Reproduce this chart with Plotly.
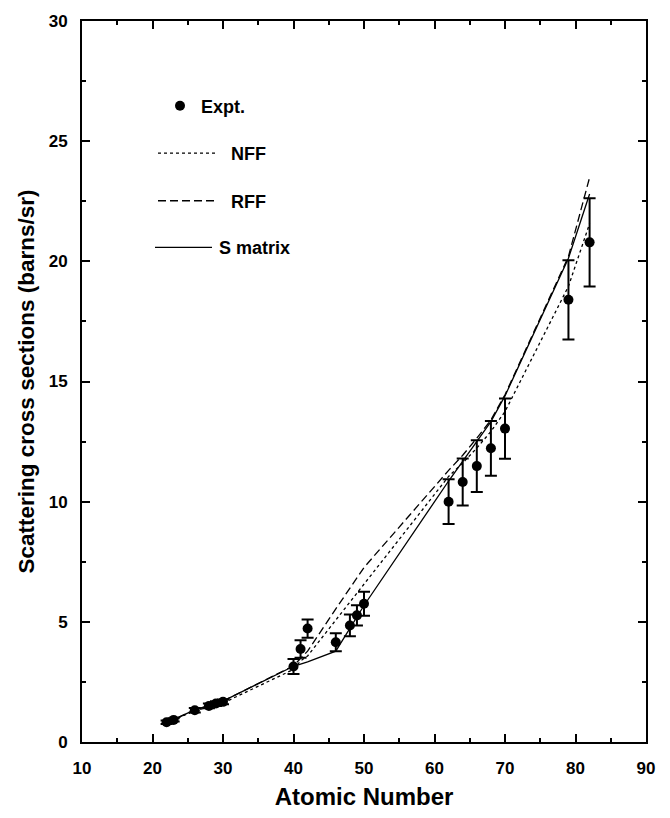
import plotly.graph_objects as go

# ---- data ----
Z = [22, 23, 26, 28, 29, 30, 40, 41, 42, 46, 48, 49, 50, 62, 64, 66, 68, 70, 79, 82]
expt = [0.82, 0.92, 1.32, 1.50, 1.60, 1.67, 3.14, 3.87, 4.72, 4.15, 4.85, 5.27, 5.75,
        10.0, 10.82, 11.48, 12.22, 13.04, 18.4, 20.79]
expt_err = [0.07, 0.07, 0.09, 0.10, 0.10, 0.10, 0.31, 0.36, 0.38, 0.37, 0.45, 0.42, 0.50,
            0.93, 0.98, 1.08, 1.14, 1.25, 1.65, 1.84]
nff = [0.82, 0.92, 1.30, 1.47, 1.55, 1.62, 3.02, 3.37, 3.58, 5.07, 5.80, 6.17, 6.53,
       11.05, 11.61, 12.23, 12.92, 13.75, 18.96, 21.57]
rff = [0.83, 0.93, 1.33, 1.52, 1.62, 1.70, 3.17, 3.47, 3.78, 5.54, 6.40, 6.83, 7.26,
       11.30, 11.93, 12.64, 13.40, 14.45, 20.20, 23.49]
smat = [0.84, 0.94, 1.34, 1.53, 1.63, 1.70, 3.15, 3.25, 3.33, 3.78, 4.75, 5.20, 5.68,
        10.86, 11.68, 12.50, 13.33, 14.40, 20.13, 22.80]

legend_labels = ["Expt.", "NFF", "RFF", "S matrix"]

FONT = "Liberation Sans, Arial, Helvetica, sans-serif"

fig = go.Figure()
fig.add_trace(go.Scatter(x=Z, y=nff, mode="lines", name="NFF",
                         line=dict(color="black", width=1.3, dash="dot")))
fig.add_trace(go.Scatter(x=Z, y=rff, mode="lines", name="RFF",
                         line=dict(color="black", width=1.3, dash="8px,4px")))
fig.add_trace(go.Scatter(x=Z, y=smat, mode="lines", name="S matrix",
                         line=dict(color="black", width=1.3)))
fig.add_trace(go.Scatter(x=Z, y=expt, mode="markers", name="Expt.",
                         marker=dict(color="black", size=10),
                         error_y=dict(type="data", array=expt_err, visible=True,
                                      color="black", thickness=2, width=6)))

W, H = 670, 818
L, R, T, B = 82, 24, 15.5, 74.5
pw, ph = W - L - R, H - T - B

def px(x):
    return (x - L) / pw

def py(y):
    return (H - B - y) / ph

shapes = []
annotations = []
# Expt marker
shapes.append(dict(type="circle", xref="paper", yref="paper", xsizemode="pixel",
                   ysizemode="pixel", xanchor=px(180), yanchor=py(101),
                   x0=-5, x1=5, y0=-5, y1=5, fillcolor="black",
                   line=dict(color="black", width=0)))
annotations.append(dict(x=px(199), y=py(102), xref="paper", yref="paper", xanchor="left",
                        yanchor="middle", showarrow=False, text=legend_labels[0],
                        font=dict(family=FONT, size=18, color="black", weight="bold")))
legend_rows = [
    (149, 158, 218, 229, "dot", legend_labels[1]),
    (197, 158, 218, 229, "8px,4px", legend_labels[2]),
    (244, 155, 212, 217, "solid", legend_labels[3]),
]
for yy, x0, x1, xt, dash, lab in legend_rows:
    shapes.append(dict(type="line", xref="paper", yref="paper", x0=px(x0), x1=px(x1),
                       y0=py(yy), y1=py(yy), line=dict(color="black", width=1.3, dash=dash)))
    annotations.append(dict(x=px(xt), y=py(yy + 1), xref="paper", yref="paper", xanchor="left",
                            yanchor="middle", showarrow=False, text=lab,
                            font=dict(family=FONT, size=18, color="black", weight="bold")))

axis_common = dict(showgrid=False, zeroline=False, showline=True, linecolor="black",
                   linewidth=2, mirror="allticks", ticks="inside", ticklen=8, tickwidth=2,
                   tickcolor="black",
                   tickfont=dict(family=FONT, size=17, color="black", weight="bold"))

fig.update_layout(
    width=W, height=H,
    margin=dict(l=L, r=R, t=T, b=B),
    paper_bgcolor="white", plot_bgcolor="white",
    showlegend=False,
    shapes=shapes, annotations=annotations,
    xaxis=dict(range=[10, 90], dtick=10, tick0=10,
               minor=dict(dtick=5, ticks="inside", ticklen=4, tickwidth=2, tickcolor="black"),
               ticklabelstandoff=10,
               title=dict(text="Atomic Number", standoff=11,
                          font=dict(family=FONT, size=24, color="black", weight="bold")),
               **axis_common),
    yaxis=dict(range=[0, 30], dtick=5, tick0=0,
               minor=dict(dtick=2.5, ticks="inside", ticklen=4, tickwidth=2, tickcolor="black"),
               ticklabelstandoff=9,
               title=dict(text="Scattering cross sections (barns/sr)", standoff=8,
                          font=dict(family=FONT, size=22.5, color="black", weight="bold")),
               **axis_common),
)

fig.write_html("out.html")
